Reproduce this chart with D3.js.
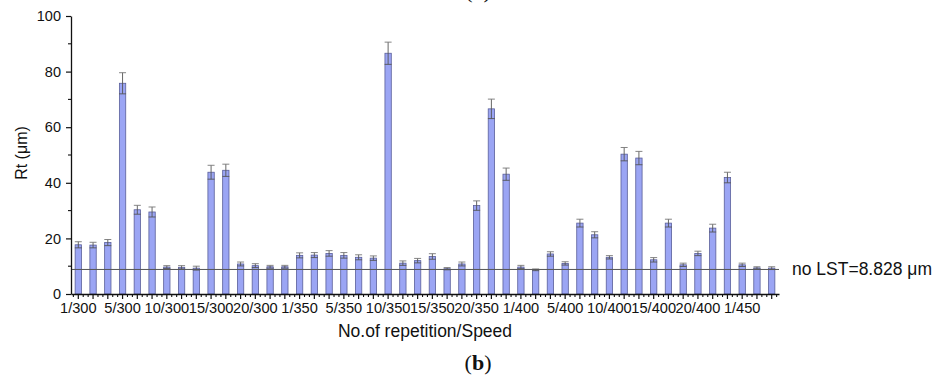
<!DOCTYPE html>
<html>
<head>
<meta charset="utf-8">
<script src="https://cdn.jsdelivr.net/npm/d3@7"></script>
<style>
  body { margin: 0; background: #fff; }
  text { font-family: "Liberation Sans", Arial, sans-serif; }
</style>
</head>
<body>
<div id="chart"></div>
<script>
var width = 940,
    height = 378,
    margin = {top: 16, right: 161, bottom: 84, left: 71};

// one label every third bar, blanks elsewhere
var tickLabels = [
  "1/300", "", "", "5/300", "", "", "10/300", "", "", "15/300", "", "", "20/300", "", "",
  "1/350", "", "", "5/350", "", "", "10/350", "", "", "15/350", "", "", "20/350", "", "",
  "1/400", "", "", "5/400", "", "", "10/400", "", "", "15/400", "", "", "20/400", "", "",
  "1/450", "", ""
];

// Rt (um) mean values
var rtValues = [
  17.7, 17.6, 18.5, 75.8, 30.3, 29.5, 9.7, 9.6, 9.3, 43.8, 44.5, 10.8, 10.2, 9.8, 9.8,
  13.9, 14.0, 14.6, 13.9, 13.2, 12.9, 86.6, 11.1, 12.0, 13.5, 9.1, 10.8, 31.8, 66.6, 43.1,
  9.7, 8.7, 14.4, 11.0, 25.5, 21.3, 13.2, 50.3, 48.9, 12.3, 25.5, 10.5, 14.6, 23.7, 41.9,
  10.5, 9.4, 9.3
];

// standard deviations
var rtErrors = [
  1.1, 1.0, 1.1, 3.8, 1.6, 1.8, 0.5, 0.6, 0.7, 2.5, 2.2, 0.7, 0.7, 0.5, 0.5,
  0.9, 0.9, 1.0, 1.0, 0.9, 0.8, 4.0, 0.8, 0.8, 1.0, 0.4, 0.7, 1.7, 3.5, 2.2,
  0.6, 0.3, 0.8, 0.6, 1.4, 1.1, 0.6, 2.4, 2.4, 0.8, 1.4, 0.6, 0.8, 1.4, 1.9,
  0.6, 0.4, 0.5
];

var yTicks = [0, 20, 40, 60, 80, 100];
var noLst = 8.828;

var svg = d3.select("#chart").append("svg")
    .attr("width", width)
    .attr("height", height);

var plotW = width - margin.left - margin.right,
    plotH = height - margin.top - margin.bottom;

var g = svg.append("g")
    .attr("transform", "translate(" + margin.left + "," + margin.top + ")");

var x = d3.scaleBand()
    .domain(d3.range(rtValues.length))
    .range([0, plotW])
    .paddingInner(0.57)
    .paddingOuter(0.28);

var y = d3.scaleLinear()
    .domain([0, 100])
    .range([plotH, 0]);

var step = x.step();
var cx = function(i) { return x(i) + x.bandwidth() / 2; };

// bars
g.selectAll("rect.bar")
  .data(rtValues)
  .enter()
  .append("rect")
  .attr("class", "bar")
  .attr("x", function(d, i) { return x(i); })
  .attr("y", d => y(d))
  .attr("width", x.bandwidth())
  .attr("height", d => plotH - y(d))
  .style("fill", "#9ba5f4")
  .style("stroke", "#5a5f9a")
  .style("stroke-width", 0.8);

// error bars
var err = g.selectAll("g.err")
  .data(rtValues)
  .enter()
  .append("g")
  .attr("class", "err");

err.append("line")
  .attr("x1", (d, i) => cx(i))
  .attr("x2", (d, i) => cx(i))
  .attr("y1", (d, i) => y(d - rtErrors[i]))
  .attr("y2", (d, i) => y(d + rtErrors[i]))
  .style("stroke", "#555")
  .style("stroke-width", 0.9);

err.selectAll("line.cap")
  .data(function(d, i) { return [{i: i, v: d - rtErrors[i]}, {i: i, v: d + rtErrors[i]}]; })
  .enter()
  .append("line")
  .attr("class", "cap")
  .attr("x1", d => cx(d.i) - 3.5)
  .attr("x2", d => cx(d.i) + 3.5)
  .attr("y1", d => y(d.v))
  .attr("y2", d => y(d.v))
  .style("stroke", (d, k) => k ? "#777" : "#555")
  .style("stroke-width", 0.9);

// reference line for untextured surface
g.append("line")
  .attr("x1", 0)
  .attr("x2", plotW)
  .attr("y1", y(noLst))
  .attr("y2", y(noLst))
  .style("stroke", "#555")
  .style("stroke-width", 1);

g.append("text")
  .attr("x", plotW + 13)
  .attr("y", y(noLst) + 6)
  .style("font-size", "17.5px")
  .style("fill", "#111")
  .text("no LST=" + noLst + " \u03bcm");

// y axis
var yAxis = d3.axisLeft(y)
  .tickValues(yTicks)
  .tickSize(5)
  .tickSizeOuter(0)
  .tickPadding(5);

var ya = g.append("g").call(yAxis);
ya.selectAll("text").style("font-size", "14.5px").style("fill", "#111");
ya.selectAll("line").style("stroke", "#111").style("stroke-width", 1.2);
ya.select(".domain").style("stroke", "#111").style("stroke-width", 1.3);

g.selectAll("line.yminor")
  .data(d3.range(10, 100, 20))
  .enter()
  .append("line")
  .attr("class", "yminor")
  .attr("x1", -3).attr("x2", 0)
  .attr("y1", d => y(d)).attr("y2", d => y(d))
  .style("stroke", "#111")
  .style("stroke-width", 1.1);

// x axis
var xAxis = d3.axisBottom(x)
  .tickFormat(i => tickLabels[i])
  .tickSize(5)
  .tickSizeOuter(0)
  .tickPadding(4);

var xa = g.append("g")
  .attr("transform", "translate(0," + plotH + ")")
  .call(xAxis);
xa.selectAll("text").style("font-size", "14.6px").style("fill", "#111");
xa.selectAll("line").style("stroke", "#111").style("stroke-width", 1.2);
xa.select(".domain").style("stroke", "#111").style("stroke-width", 1.3);

var minor = [];
d3.range(rtValues.length).forEach(function(i) {
  minor.push(cx(i) - step / 3, cx(i) + step / 3);
});
xa.selectAll("line.xminor")
  .data(minor)
  .enter()
  .append("line")
  .attr("class", "xminor")
  .attr("x1", d => d).attr("x2", d => d)
  .attr("y1", 0).attr("y2", 3)
  .style("stroke", "#111")
  .style("stroke-width", 1.1);

// axis titles
g.append("text")
  .attr("x", plotW / 2)
  .attr("y", plotH + 43)
  .attr("text-anchor", "middle")
  .style("font-size", "17.5px")
  .style("fill", "#111")
  .text("No.of repetition/Speed");

g.append("text")
  .attr("transform", "translate(" + (-44) + "," + (plotH / 2 - 2) + ") rotate(-90)")
  .attr("text-anchor", "middle")
  .style("font-size", "16px")
  .style("fill", "#111")
  .text("Rt (\u03bcm)");

// panel captions
svg.append("text")
  .attr("x", 478)
  .attr("y", 370)
  .attr("text-anchor", "middle")
  .style("font-family", "'Liberation Serif', 'DejaVu Serif', serif")
  .style("font-size", "22px")
  .style("fill", "#111")
  .html("(<tspan font-weight='bold'>b</tspan>)");

svg.append("text")
  .attr("x", 478)
  .attr("y", -2)
  .attr("text-anchor", "middle")
  .style("font-family", "'Liberation Serif', 'DejaVu Serif', serif")
  .style("font-size", "22px")
  .style("fill", "#111")
  .html("(<tspan font-weight='bold'>a</tspan>)");
</script>
</body>
</html>
